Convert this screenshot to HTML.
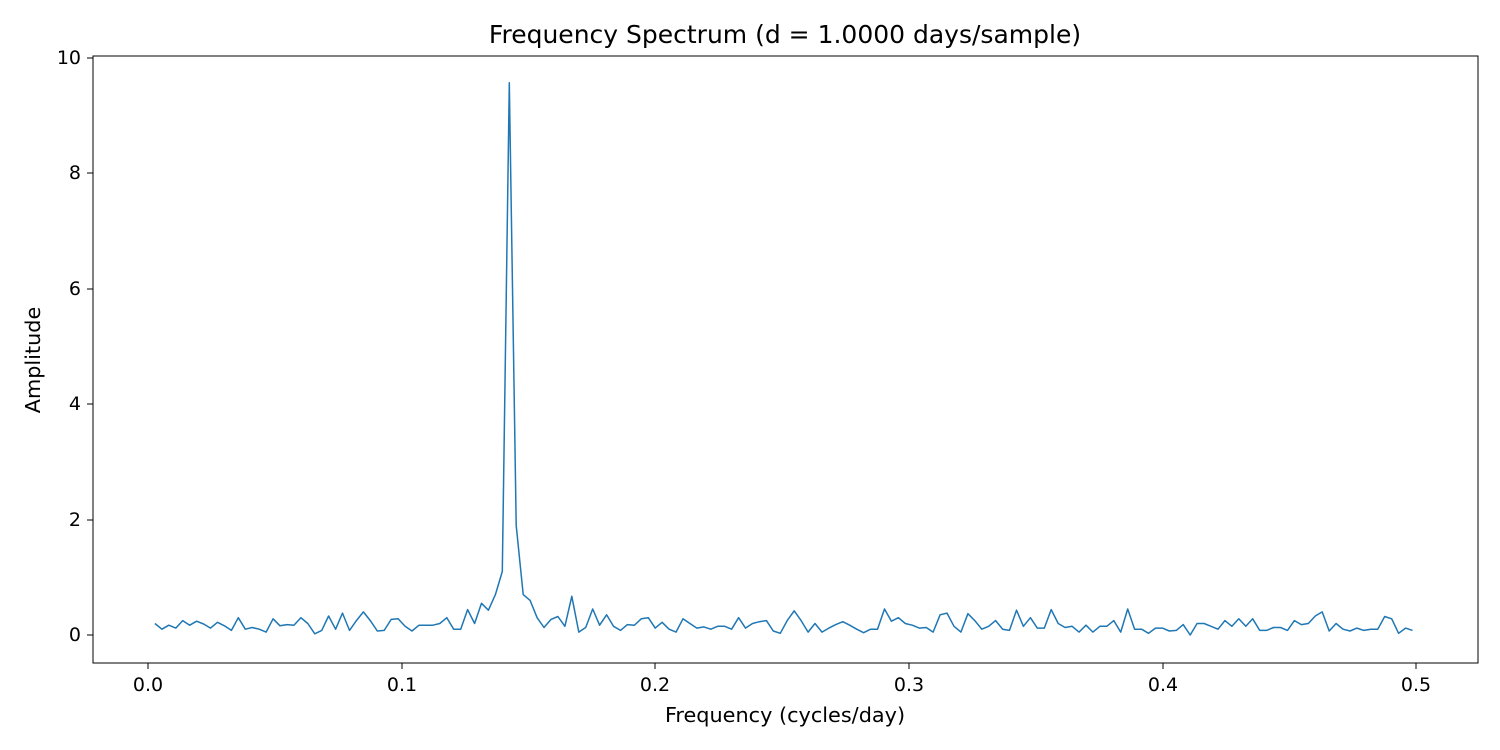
<!DOCTYPE html>
<html><head><meta charset="utf-8"><style>
html,body{margin:0;padding:0;background:#fff;}
svg{display:block;font-family:"DejaVu Sans","Liberation Sans",sans-serif;}
</style></head><body>
<svg id="s" width="1500" height="750" xmlns="http://www.w3.org/2000/svg">
<rect width="1500" height="750" fill="#fff"/>
<text x="785" y="43" font-size="25" text-anchor="middle" fill="#000">Frequency Spectrum (d = 1.0000 days/sample)</text>
<g stroke="#000" stroke-width="1">
<line x1="148" y1="663" x2="148" y2="669"/><line x1="402" y1="663" x2="402" y2="669"/>
<line x1="655" y1="663" x2="655" y2="669"/><line x1="909" y1="663" x2="909" y2="669"/>
<line x1="1163" y1="663" x2="1163" y2="669"/><line x1="1416" y1="663" x2="1416" y2="669"/>
<line x1="87" y1="635" x2="93" y2="635"/><line x1="87" y1="520" x2="93" y2="520"/>
<line x1="87" y1="404" x2="93" y2="404"/><line x1="87" y1="289" x2="93" y2="289"/>
<line x1="87" y1="173" x2="93" y2="173"/><line x1="87" y1="58" x2="93" y2="58"/>
</g>
<g font-size="19" fill="#000" text-anchor="middle">
<text x="148" y="691">0.0</text><text x="402" y="691">0.1</text><text x="655" y="691">0.2</text>
<text x="909" y="691">0.3</text><text x="1163" y="691">0.4</text><text x="1416" y="691">0.5</text>
</g>
<g font-size="19" fill="#000" text-anchor="end">
<text x="81" y="641">0</text><text x="81" y="526">2</text><text x="81" y="410">4</text>
<text x="81" y="295">6</text><text x="81" y="179">8</text><text x="81" y="64">10</text>
</g>
<text x="785" y="722" font-size="20.8" text-anchor="middle">Frequency (cycles/day)</text>
<text transform="translate(40,360) rotate(-90)" font-size="20.8" text-anchor="middle">Amplitude</text>
<polyline id="p" fill="none" stroke="#1f77b4" stroke-width="1.5" stroke-linejoin="round" points=""/>
<rect x="93" y="56" width="1385" height="607" fill="none" stroke="#000" stroke-width="1"/>
</svg>
<script>
var v=[0.2,0.1,0.17,0.12,0.25,0.17,0.24,0.19,0.12,0.22,0.16,0.08,0.3,0.1,0.13,0.1,0.05,0.28,0.16,0.18,0.17,0.3,0.2,0.02,0.08,0.33,0.1,0.38,0.08,0.25,0.4,0.25,0.07,0.08,0.27,0.28,0.15,0.07,0.17,0.17,0.17,0.2,0.3,0.1,0.1,0.44,0.2,0.55,0.43,0.7,1.1,9.57,1.9,0.7,0.6,0.3,0.13,0.27,0.32,0.15,0.67,0.05,0.13,0.45,0.17,0.35,0.15,0.08,0.18,0.17,0.28,0.3,0.12,0.22,0.1,0.05,0.28,0.2,0.12,0.14,0.1,0.15,0.15,0.1,0.3,0.12,0.2,0.23,0.25,0.07,0.03,0.25,0.42,0.25,0.05,0.2,0.05,0.12,0.18,0.23,0.17,0.1,0.04,0.1,0.1,0.45,0.24,0.3,0.2,0.17,0.12,0.13,0.05,0.35,0.38,0.15,0.05,0.37,0.25,0.1,0.15,0.25,0.1,0.08,0.43,0.15,0.3,0.12,0.12,0.44,0.2,0.13,0.15,0.05,0.17,0.05,0.15,0.15,0.25,0.05,0.45,0.1,0.1,0.03,0.12,0.12,0.07,0.08,0.18,0.0,0.2,0.2,0.15,0.1,0.25,0.15,0.28,0.15,0.28,0.08,0.08,0.13,0.13,0.08,0.25,0.18,0.2,0.33,0.4,0.07,0.2,0.1,0.07,0.12,0.08,0.1,0.1,0.32,0.28,0.03,0.12,0.08];
var pts=[];
for(var i=0;i<v.length;i++){var f=(i+1)/365;pts.push((148+f*2536).toFixed(1)+","+(635-v[i]*57.7).toFixed(1));}
document.getElementById("p").setAttribute("points",pts.join(" "));
</script>
</body></html>
